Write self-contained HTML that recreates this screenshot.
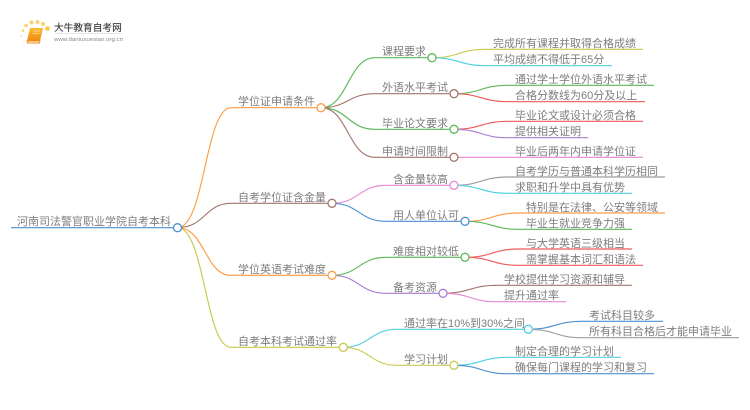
<!DOCTYPE html>
<html lang="zh">
<head>
<meta charset="utf-8">
<title>河南司法警官职业学院自考本科</title>
<style>
html,body{margin:0;padding:0;background:#fff;width:750px;height:410px;overflow:hidden}
svg{display:block;filter:blur(.3px)}
text{font-family:"Liberation Sans","Noto Sans CJK SC",sans-serif;font-size:11px;fill:#7d7d7d;font-weight:400}
.l{fill:none;stroke-width:1.15}
.c{fill:#fff;stroke-width:1.3}
</style>
</head>
<body>
<svg width="750" height="410" viewBox="0 0 750 410" xmlns="http://www.w3.org/2000/svg">
<defs><linearGradient id="bk" x1="0" y1="0" x2="0" y2="1"><stop offset="0" stop-color="#ffb92e"/><stop offset="1" stop-color="#f08a10"/></linearGradient></defs>
<!-- logo -->
<g fill="#ffd070">
<circle cx="47.5" cy="28.5" r="2.4" fill="#ffc850"/><circle cx="43" cy="24" r="2"/><circle cx="37.5" cy="22" r="2"/><circle cx="31.5" cy="22.5" r="2"/><circle cx="26" cy="25.5" r="1.8"/><circle cx="23" cy="30.5" r="1.4"/><circle cx="21.5" cy="36" r="1.2" fill="#ffe8b8"/><circle cx="23.5" cy="42.5" r="1" fill="#ffefd0"/>
</g>
<path d="M30 28H43L40 41H27Z" fill="url(#bk)"/>
<path d="M27 41H40L39.5 43H27.5Z" fill="#fff" stroke="#f08a10" stroke-width=".9"/>
<path d="M33 31H40M32.5 33.5H39.5" stroke="#ffe3a6" stroke-width=".8"/>
<text x="54" y="31" style="font-size:9.7px;fill:#444;font-weight:500">大牛教育自考网</text>
<path d="M54 33.5H121" stroke="#ccc" stroke-width=".6"/>
<text x="54" y="41" textLength="69" lengthAdjust="spacingAndGlyphs" style="font-size:5.8px;fill:#888">www.daniuxuexiao.org.cn</text>

<!-- root branches -->
<path class="l" stroke="#ff9c45" d="M177.5 227.7C205 227.7 205 107.7 231 107.7H321"/>
<path class="l" stroke="#a1776c" d="M177.5 227.7C205 227.7 205 203.3 231 203.3H332"/>
<path class="l" stroke="#ff9c45" d="M177.5 227.7C205 227.7 205 275.3 231 275.3H332"/>
<path class="l" stroke="#c9c94f" d="M177.5 227.7C205 227.7 205 347.3 231 347.3H343"/>
<path class="l" stroke="#4a90d0" d="M11 227.7H177.5"/>

<!-- level 2 -->
<path class="l" stroke="#5cb85c" d="M321 107.7C348 107.7 348 57.7 375 57.7H432"/>
<path class="l" stroke="#a1776c" d="M321 107.7C348 107.7 348 93.7 375 93.7H454"/>
<path class="l" stroke="#5cb85c" d="M321 107.7C348 107.7 348 129.3 375 129.3H454"/>
<path class="l" stroke="#a1776c" d="M321 107.7C348 107.7 348 157.3 375 157.3H454"/>
<path class="l" stroke="#e887d3" d="M332 203.3C359 203.3 359 185.3 386 185.3H454"/>
<path class="l" stroke="#4a90d0" d="M332 203.3C359 203.3 359 221.3 386 221.3H465"/>
<path class="l" stroke="#5cb85c" d="M332 275.3C359 275.3 359 257.3 386 257.3H465"/>
<path class="l" stroke="#a87cd0" d="M332 275.3C359 275.3 359 293.3 386 293.3H443"/>
<path class="l" stroke="#4dd0e1" d="M343 347.3C370 347.3 370 329.3 397 329.3H528"/>
<path class="l" stroke="#c9c94f" d="M343 347.3C370 347.3 370 365.3 397 365.3H454"/>

<!-- level 3 -->
<path class="l" stroke="#c9c94f" d="M432 57.7C459 57.7 459 49.3 486 49.3H643"/>
<path class="l" stroke="#4dd0e1" d="M432 57.7C459 57.7 459 65.7 486 65.7H612"/>
<path class="l" stroke="#5cb85c" d="M454 93.7C481 93.7 481 85.3 508 85.3H654"/>
<path class="l" stroke="#ef5a5a" d="M454 93.7C481 93.7 481 101.7 508 101.7H645"/>
<path class="l" stroke="#ef5a5a" d="M454 129.3C481 129.3 481 121.3 508 121.3H643"/>
<path class="l" stroke="#a87cd0" d="M454 129.3C481 129.3 481 137.7 508 137.7H588"/>
<path class="l" stroke="#e887d3" d="M454 157.3H643"/>
<path class="l" stroke="#9e9e9e" d="M454 185.3C481 185.3 481 177 508 177H665"/>
<path class="l" stroke="#4dd0e1" d="M454 185.3C481 185.3 481 193.3 508 193.3H632"/>
<path class="l" stroke="#ff9c45" d="M465 221.3C492 221.3 492 213 519 213H665"/>
<path class="l" stroke="#5cb85c" d="M465 221.3C492 221.3 492 229.3 519 229.3H632"/>
<path class="l" stroke="#ef5a5a" d="M465 257.3C492 257.3 492 249 519 249H632"/>
<path class="l" stroke="#ef5a5a" d="M465 257.3C492 257.3 492 265.3 519 265.3H643"/>
<path class="l" stroke="#a1776c" d="M443 293.3C470 293.3 470 285.3 497 285.3H632"/>
<path class="l" stroke="#e887d3" d="M443 293.3C470 293.3 470 301.7 497 301.7H566"/>
<path class="l" stroke="#4a90d0" d="M528 329.3C555 329.3 555 321.3 582 321.3H663"/>
<path class="l" stroke="#9e9e9e" d="M528 329.3C555 329.3 555 337.7 582 337.7H739"/>
<path class="l" stroke="#4dd0e1" d="M454 365.3C481 365.3 481 357.3 508 357.3H621"/>
<path class="l" stroke="#4a90d0" d="M454 365.3C481 365.3 481 373.7 508 373.7H654"/>

<!-- circles -->
<circle class="c" cx="177.5" cy="227.7" r="4" stroke="#4a90d0"/>
<circle class="c" cx="321" cy="107.7" r="4" stroke="#ff9c45"/>
<circle class="c" cx="332" cy="203.3" r="4" stroke="#a1776c"/>
<circle class="c" cx="332" cy="275.3" r="4" stroke="#ff9c45"/>
<circle class="c" cx="343.3" cy="347.3" r="4" stroke="#c9c94f"/>
<circle class="c" cx="432" cy="57.7" r="4" stroke="#5cb85c"/>
<circle class="c" cx="454" cy="93.7" r="4" stroke="#a1776c"/>
<circle class="c" cx="454" cy="129.3" r="4" stroke="#5cb85c"/>
<circle class="c" cx="454" cy="157.3" r="4" stroke="#a1776c"/>
<circle class="c" cx="454" cy="185.3" r="4" stroke="#e887d3"/>
<circle class="c" cx="465" cy="221.3" r="4" stroke="#4a90d0"/>
<circle class="c" cx="465" cy="257.3" r="4" stroke="#5cb85c"/>
<circle class="c" cx="443" cy="293.3" r="4" stroke="#a87cd0"/>
<circle class="c" cx="528.3" cy="329.3" r="4" stroke="#4dd0e1"/>
<circle class="c" cx="454" cy="365.3" r="4" stroke="#c9c94f"/>

<!-- labels -->
<g transform="translate(0,1)">
<text x="17" y="224">河南司法警官职业学院自考本科</text>
<text x="238" y="104">学位证申请条件</text>
<text x="238" y="200">自考学位证含金量</text>
<text x="238" y="272">学位英语考试难度</text>
<text x="238" y="344">自考本科考试通过率</text>
<text x="382" y="54">课程要求</text>
<text x="382" y="90">外语水平考试</text>
<text x="382" y="126">毕业论文要求</text>
<text x="382" y="154">申请时间限制</text>
<text x="393" y="182">含金量较高</text>
<text x="393" y="218">用人单位认可</text>
<text x="393" y="254">难度相对较低</text>
<text x="393" y="290">备考资源</text>
<text x="404" y="326">通过率在10%到30%之间</text>
<text x="404" y="362">学习计划</text>
<text x="493" y="46">完成所有课程并取得合格成绩</text>
<text x="493" y="62">平均成绩不得低于65分</text>
<text x="515" y="82">通过学士学位外语水平考试</text>
<text x="515" y="98">合格分数线为60分及以上</text>
<text x="515" y="118">毕业论文或设计必须合格</text>
<text x="515" y="134">提供相关证明</text>
<text x="515" y="154">毕业后两年内申请学位证</text>
<text x="515" y="174">自考学历与普通本科学历相同</text>
<text x="515" y="190">求职和升学中具有优势</text>
<text x="526" y="210">特别是在法律、公安等领域</text>
<text x="526" y="226">毕业生就业竞争力强</text>
<text x="526" y="246">与大学英语三级相当</text>
<text x="526" y="262">需掌握基本词汇和语法</text>
<text x="504" y="282">学校提供学习资源和辅导</text>
<text x="504" y="298">提升通过率</text>
<text x="589" y="318">考试科目较多</text>
<text x="589" y="334">所有科目合格后才能申请毕业</text>
<text x="515" y="354">制定合理的学习计划</text>
<text x="515" y="370">确保每门课程的学习和复习</text>
</g>
</svg>
</body>
</html>
